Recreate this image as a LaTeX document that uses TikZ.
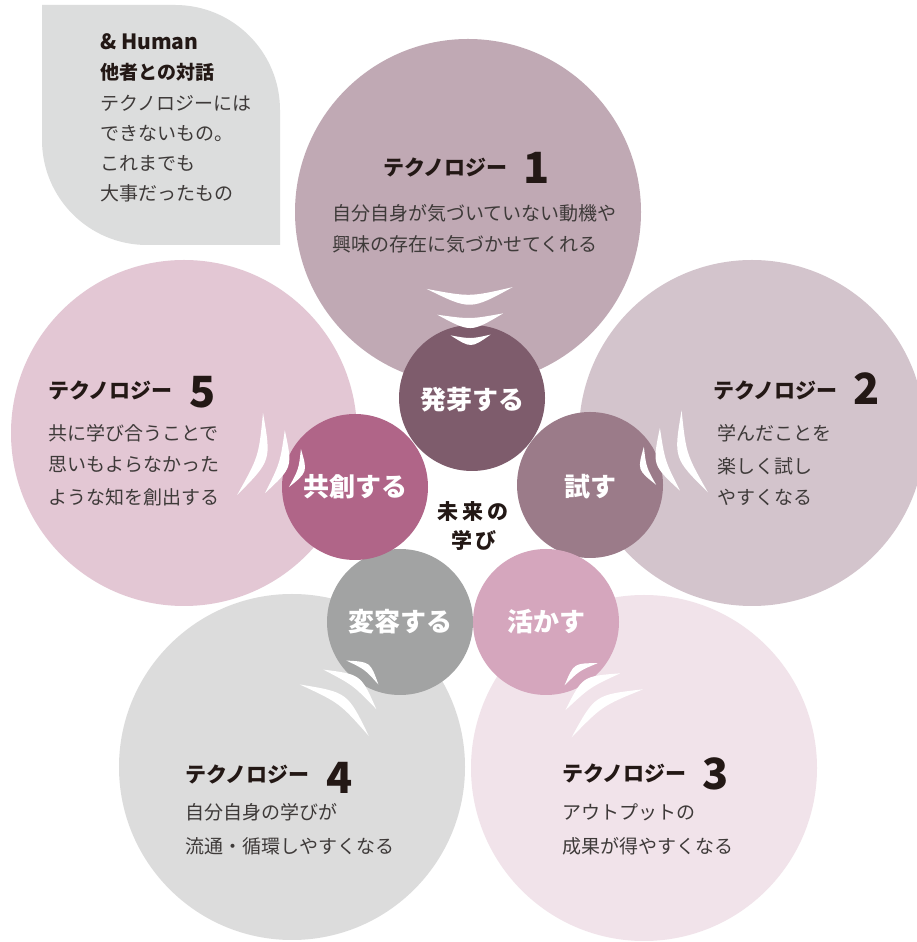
\documentclass[tikz,border=0pt]{standalone}
\usepackage{fontspec}
\setmainfont{Noto Sans CJK JP}
\definecolor{cA}{HTML}{C0A9B4}
\definecolor{cB}{HTML}{D3C4CC}
\definecolor{cC}{HTML}{F1E3EA}
\definecolor{cD}{HTML}{DCDCDC}
\definecolor{cE}{HTML}{E3C7D4}
\definecolor{sA}{HTML}{7E5C6C}
\definecolor{sB}{HTML}{9B7B89}
\definecolor{sC}{HTML}{D5A6BD}
\definecolor{sD}{HTML}{A2A3A3}
\definecolor{sE}{HTML}{B06588}
\definecolor{boxgray}{HTML}{DCDDDD}
\definecolor{ink}{HTML}{231815}
\definecolor{bodyink}{HTML}{3E3A39}
\tikzset{
  bigc/.style={circle, minimum size=346pt, inner sep=0pt},
  smallc/.style={circle, minimum size=146pt, inner sep=0pt},
  titletext/.style={anchor=west, inner sep=0pt, text=ink, font=\fontsize{21}{25}\selectfont\bfseries},
  numtext/.style={anchor=west, inner sep=0pt, text=ink, font=\fontsize{43}{48}\selectfont\bfseries},
  bodytext/.style={anchor=west, inner sep=0pt, text=bodyink, font=\fontsize{19}{23}\selectfont},
  boldtext/.style={anchor=west, inner sep=0pt, text=ink, font=\fontsize{19}{23}\selectfont\bfseries},
  smalllabel/.style={inner sep=0pt, text=white, font=\fontsize{26}{30}\selectfont\bfseries},
  centerlabel/.style={inner sep=0pt, text=ink, font=\fontsize{21}{25}\selectfont\bfseries},
  waves/.pic={
    \fill[white] (110,-43) .. controls (87.7,0) .. (110,43) .. controls (101,0) .. (110,-43) -- cycle;
    \fill[white] (84,-33) .. controls (65.3,0) .. (84,33) .. controls (78.7,0) .. (84,-33) -- cycle;
    \fill[white] (63,-20) .. controls (49.7,0) .. (63,20) .. controls (59,0) .. (63,-20) -- cycle;
  }
}
\begin{document}
\begin{tikzpicture}[x=1pt,y=1pt]
\clip (0,0) rectangle (917,942);
\fill[white] (0,0) rectangle (917,942);
% gray leaf box
\fill[boxgray] (42,937) -- (175,937) arc[start angle=90, end angle=0, radius=105pt]
  -- (280,697) -- (147,697) arc[start angle=270, end angle=180, radius=105pt] -- cycle;
% big circles
\node[bigc, fill=cA] (b1) at (468,730) {};
\node[bigc, fill=cB] (b2) at (752,509) {};
\node[bigc, fill=cC] (b3) at (644,174) {};
\node[bigc, fill=cD] (b4) at (292,175) {};
\node[bigc, fill=cE] (b5) at (184,509) {};
% small circles
\node[smallc, fill=sA] (s1) at (472,544) {};
\node[smallc, fill=sB] (s2) at (590,457) {};
\node[smallc, fill=sC] (s3) at (546,320) {};
\node[smallc, fill=sD] (s4) at (400,320) {};
\node[smallc, fill=sE] (s5) at (355,455) {};
% waves
\pic[rotate=91.2] at (s1.center) {waves};
\pic[rotate=17.8] at (s2.center) {waves};
\pic[rotate=-56.1] at (s3.center) {waves};
\pic[rotate=-126.7] at (s4.center) {waves};
\pic[rotate=162.5] at (s5.center) {waves};
% small labels
\node[smalllabel] (l1) at (472,542) {発芽する};
\node[smalllabel] (l2) at (590,455) {試す};
\node[smalllabel] (l3) at (546,320) {活かす};
\node[smalllabel] (l4) at (400,320) {変容する};
\node[smalllabel] (l5) at (355,455) {共創する};
\node[centerlabel] (m1) at (473,430) {未\hspace{4pt}来\hspace{4pt}の};
\node[centerlabel] (m2) at (474,402) {学\hspace{4pt}び};
% gray box text
\node[boldtext, font=\fontsize{21}{25}\selectfont\bfseries] (g0) at (100,900) {\& Human};
\node[boldtext] (g1) at (100,870) {他者との対話};
\node[bodytext] (g2) at (100,839) {テクノロジーには};
\node[bodytext] (g3) at (100,809) {できないもの。};
\node[bodytext] (g4) at (100,779) {これまでも};
\node[bodytext] (g5) at (100,749) {大事だったもの};
% circle 1
\node[titletext] (t1) at (383,774) {テクノロジー};
\node[numtext] (n1) at (523,774) {1};
\node[bodytext] (a1) at (332,729) {自分自身が気づいていない動機や};
\node[bodytext] (a2) at (332,698) {興味の存在に気づかせてくれる};
% circle 2
\node[titletext] (t2) at (713,551) {テクノロジー};
\node[numtext] (n2) at (853,553) {2};
\node[bodytext] (c1) at (717,509) {学んだことを};
\node[bodytext] (c2) at (717,476) {楽しく試し};
\node[bodytext] (c3) at (717,445) {やすくなる};
% circle 5
\node[titletext] (t5) at (48,551) {テクノロジー};
\node[numtext] (n5) at (189,550) {5};
\node[bodytext] (e1) at (48,509) {共に学び合うことで};
\node[bodytext] (e2) at (48,477) {思いもよらなかった};
\node[bodytext] (e3) at (48,445) {ような知を創出する};
% circle 4
\node[titletext] (t4) at (185,167) {テクノロジー};
\node[numtext] (n4) at (326,164) {4};
\node[bodytext] (d1) at (185,130) {自分自身の学びが};
\node[bodytext] (d2) at (185,96) {流通・循環しやすくなる};
% circle 3
\node[titletext] (t3) at (562,168) {テクノロジー};
\node[numtext] (n3) at (702,168) {3};
\node[bodytext] (f1) at (562,130) {アウトプットの};
\node[bodytext] (f2) at (562,96) {成果が得やすくなる};
\end{tikzpicture}
\end{document}
